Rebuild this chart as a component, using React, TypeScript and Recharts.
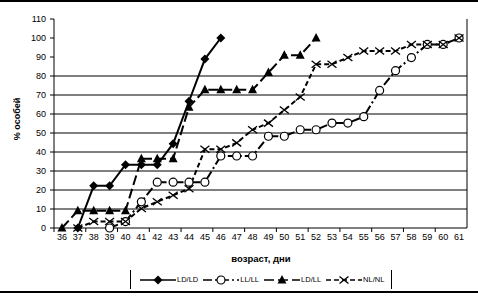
import { LineChart, Line, XAxis, YAxis, ReferenceLine } from "recharts";

// возраст, дни
const categories = [
  "36", "37", "38", "39", "40", "41", "42", "43", "44", "45", "46", "47", "48",
  "49", "50", "51", "52", "53", "54", "55", "56", "57", "58", "59", "60", "61",
];

// % особей по группам
const ldld = [
  null, 0, 22.2, 22.2, 33.3, 33.3, 33.3, 44.4, 66.7, 88.9, 100,
  null, null, null, null, null, null, null, null, null, null, null, null, null, null, null,
];
const llll = [
  null, null, null, 0, 3.4, 13.8, 24.1, 24.1, 24.1, 24.1, 37.9, 37.9, 37.9,
  48.3, 48.3, 51.7, 51.7, 55.2, 55.2, 58.6, 72.4, 82.8, 89.7, 96.6, 96.6, 100,
];
const ldll = [
  0, 9.1, 9.1, 9.1, 9.1, 36.4, 36.4, 36.4, 63.6, 72.7, 72.7, 72.7, 72.7,
  81.8, 90.9, 90.9, 100, null, null, null, null, null, null, null, null, null,
];
const nlnl = [
  null, 0, 3.4, 3.4, 3.4, 10.3, 13.8, 17.2, 20.7, 41.4, 41.4, 44.8, 51.7,
  55.2, 62.1, 69.0, 86.2, 86.2, 89.7, 93.1, 93.1, 93.1, 96.6, 96.6, 96.6, 100,
];

const yTicks = [0, 10, 20, 30, 40, 50, 60, 70, 80, 90, 100, 110];
const gridValues = [10, 20, 30, 40, 50, 60, 70, 80];

const series = [
  { key: "ldld", name: "LD/LD", marker: "diamond", dash: undefined },
  { key: "llll", name: "LL/LL", marker: "circle", dash: "9 3 2 3" },
  { key: "ldll", name: "LD/LL", marker: "triangle", dash: "10 4" },
  { key: "nlnl", name: "NL/NL", marker: "cross", dash: "5 3" },
];

const data = categories.map((day, i) => ({
  day,
  ldld: ldld[i],
  llll: llll[i],
  ldll: ldll[i],
  nlnl: nlnl[i],
}));

const FONT = "'Liberation Sans', Arial, sans-serif";
const BAND = 413 / 26;

const Marker = ({ type, cx, cy }: { type: string; cx: number; cy: number }) => {
  if (type === "diamond")
    return (
      <polygon
        points={`${cx},${cy - 4.5} ${cx + 4.5},${cy} ${cx},${cy + 4.5} ${cx - 4.5},${cy}`}
        fill="#000"
      />
    );
  if (type === "circle")
    return <circle cx={cx} cy={cy} r={4} fill="#fff" stroke="#000" strokeWidth={1.2} />;
  if (type === "triangle")
    return (
      <polygon
        points={`${cx},${cy - 5} ${cx + 4.5},${cy + 3.5} ${cx - 4.5},${cy + 3.5}`}
        fill="#000"
      />
    );
  return (
    <path
      d={`M${cx - 4.5},${cy - 3.5}L${cx + 4.5},${cy + 3.5}M${cx + 4.5},${cy - 3.5}L${cx - 4.5},${cy + 3.5}`}
      stroke="#000"
      strokeWidth={1.3}
      fill="none"
    />
  );
};

const makeDot = (type: string) => (props: any) => {
  const { cx, cy, index, value } = props;
  if (cx == null || cy == null || value == null) return <g key={index} />;
  return (
    <g key={index}>
      <Marker type={type} cx={cx} cy={cy} />
    </g>
  );
};

const XTick = (props: any) => {
  const { x, y, payload, index } = props;
  const left = x - BAND / 2;
  return (
    <g>
      {index % 2 === 0 && <line x1={left} y1={y - 6} x2={left} y2={y - 2} stroke="#000" />}
      <text x={x} y={y} dy="0.71em" textAnchor="middle" fontSize={9} fontFamily={FONT} fill="#000">
        {payload.value}
      </text>
    </g>
  );
};

const LegendBox = () => (
  <div
    style={{
      position: "absolute",
      left: 130,
      top: 272,
      width: 262,
      height: 19,
      borderLeft: "1px solid #000",
      borderRight: "1px solid #000",
      display: "flex",
      alignItems: "center",
      paddingLeft: 9,
      boxSizing: "border-box",
      fontFamily: FONT,
      fontSize: 7.5,
      color: "#000",
      marginTop: -2,
    }}
  >
    {series.map((s) => (
      <div key={s.key} style={{ display: "flex", alignItems: "center", marginRight: 5 }}>
        <svg width={36} height={12}>
          <line x1={0} y1={6} x2={36} y2={6} stroke="#000" strokeWidth={1.5} strokeDasharray={s.dash} />
          <Marker type={s.marker} cx={18} cy={6} />
        </svg>
        <span style={{ marginLeft: 1, color: "#000" }}>{s.name}</span>
      </div>
    ))}
  </div>
);

export default function App() {
  return (
    <div
      style={{
        position: "absolute",
        left: 0,
        top: 0,
        width: 478,
        height: 298,
        background: "#fff",
        overflow: "hidden",
      }}
    >
      <div style={{ position: "absolute", left: 0, top: 0, width: 478, height: 2, background: "#000" }} />
      <div style={{ position: "absolute", left: 0, top: 291, width: 478, height: 2, background: "#000" }} />
      <LineChart
        width={478}
        height={298}
        data={data}
        margin={{ top: 19, right: 10, bottom: 40, left: 0 }}
      >
        <XAxis
          dataKey="day"
          interval={0}
          padding={{ left: BAND / 2, right: BAND / 2 }}
          height={30}
          axisLine={{ stroke: "#000" }}
          tickLine={false}
          tickSize={4}
          tickMargin={2}
          tick={<XTick />}
          label={{
            content: () => (
              <text x={261} y={262} textAnchor="middle" fontSize={9.5} fontWeight="bold" fontFamily={FONT} fill="#000">
                возраст, дни
              </text>
            ),
          }}
        />
        <YAxis
          yAxisId="left"
          width={54}
          domain={[0, 110]}
          ticks={yTicks}
          interval={0}
          axisLine={{ stroke: "#000" }}
          tickLine={{ stroke: "#000" }}
          tickSize={4}
          tickMargin={4}
          tick={{ fontSize: 9, fontFamily: FONT, fill: "#000" }}
          label={{
            content: () => (
              <text
                x={20}
                y={119}
                transform="rotate(-90 20 119)"
                textAnchor="middle"
                fontSize={9}
                fontWeight="bold"
                fontFamily={FONT}
                fill="#000"
              >
                % особей
              </text>
            ),
          }}
        />
        <YAxis
          yAxisId="right"
          orientation="right"
          width={1}
          domain={[0, 110]}
          tick={false}
          tickLine={false}
          axisLine={{ stroke: "#000" }}
        />
        {gridValues.map((v) => (
          <ReferenceLine key={v} yAxisId="left" y={v} stroke="#000" strokeWidth={1} />
        ))}
        {series.map((s) => (
          <Line
            key={s.key}
            yAxisId="left"
            dataKey={s.key}
            name={s.name}
            type="linear"
            stroke="#000"
            strokeWidth={2}
            strokeDasharray={s.dash}
            dot={makeDot(s.marker)}
            activeDot={false}
            isAnimationActive={false}
          />
        ))}
      </LineChart>
      <LegendBox />
    </div>
  );
}
